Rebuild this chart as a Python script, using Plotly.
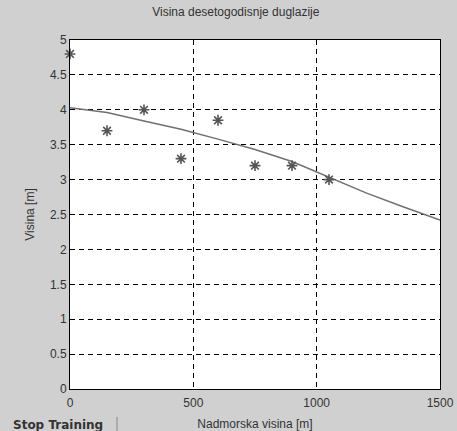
import plotly.graph_objects as go

# Measured data (stars)
x_pts = [0, 150, 300, 450, 600, 750, 900, 1050]
y_pts = [4.8, 3.7, 4.0, 3.3, 3.85, 3.2, 3.2, 3.0]

# Network output line
x_line = [0, 150, 300, 450, 600, 750, 900, 1050, 1200, 1350, 1500]
y_line = [4.03, 3.96, 3.84, 3.72, 3.58, 3.43, 3.26, 3.03, 2.81, 2.61, 2.42]

x_ticks = [0, 500, 1000, 1500]
y_ticks = [0, 0.5, 1, 1.5, 2, 2.5, 3, 3.5, 4, 4.5, 5]

title_text = "Visina desetogodisnje duglazije"
x_title = "Nadmorska visina [m]"
y_title = "Visina [m]"
button_text = "Stop Training"

font_family = "Liberation Sans, Arial, sans-serif"

fig = go.Figure()
fig.add_trace(go.Scatter(
    x=x_line, y=y_line, mode="lines",
    line=dict(color="#707070", width=1.5), showlegend=False, cliponaxis=True))
fig.add_trace(go.Scatter(
    x=x_pts, y=y_pts, mode="markers",
    marker=dict(symbol="asterisk-open", size=9, color="#555555",
                line=dict(color="#555555", width=1.6)),
    showlegend=False, cliponaxis=False))

axis_common = dict(
    showline=True, linecolor="black", linewidth=1, mirror=True,
    showgrid=True, gridcolor="black", gridwidth=1, griddash="5px,4px",
    zeroline=False, ticks="", automargin=False,
    tickfont=dict(size=12, color="#333333", family=font_family),
)

fig.update_layout(
    width=457, height=431,
    paper_bgcolor="#d0d0d0", plot_bgcolor="white",
    margin=dict(l=70, r=17, t=40, b=42),
    title=dict(text=title_text, x=0.516, xanchor="center", y=0.982, yanchor="top",
               automargin=False,
               font=dict(size=12, color="#333333", family=font_family)),
    xaxis=dict(range=[0, 1500], tickvals=x_ticks, ticktext=[str(v) for v in x_ticks],
               ticklabelstandoff=3,
               title=dict(text=x_title, standoff=12,
                          font=dict(size=12, color="#333333", family=font_family)),
               **axis_common),
    yaxis=dict(range=[0, 5], tickvals=y_ticks,
               ticktext=["0", "0.5", "1", "1.5", "2", "2.5", "3", "3.5", "4", "4.5", "5"],
               title=dict(text=y_title, standoff=12,
                          font=dict(size=12, color="#333333", family=font_family)),
               **axis_common),
)

fig.add_annotation(
    text="<b>" + button_text + "</b>", xref="paper", yref="paper",
    x=-0.157, y=-0.103, xanchor="left", yanchor="middle", showarrow=False,
    borderpad=0,
    font=dict(size=12, color="#333333", family="DejaVu Sans, sans-serif"),
)
fig.add_shape(type="line", xref="paper", yref="paper",
              x0=0.127, x1=0.127, y0=-0.08, y1=-0.125,
              line=dict(color="#888888", width=1))

fig.write_html("out.html", config={"displayModeBar": False},
               post_script="document.body.style.margin='0';document.body.style.overflow='hidden';")
